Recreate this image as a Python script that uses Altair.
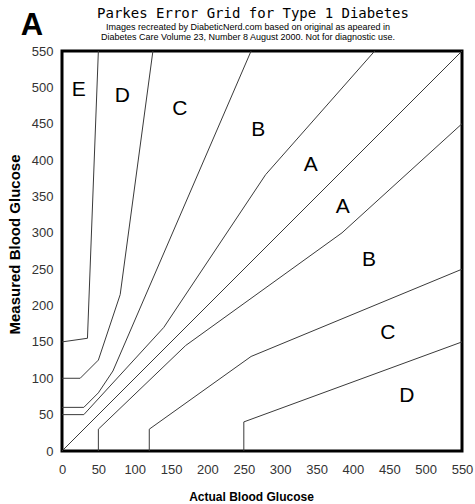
import altair as alt
import pandas as pd

# Zone boundary lines (Parkes error grid, type 1 diabetes)
a_upper_x = [0, 30, 140, 280, 430]
a_upper_y = [50, 50, 170, 380, 550]
a_lower_x = [50, 50, 170, 385, 550]
a_lower_y = [0, 30, 145, 300, 450]
b_upper_x = [0, 30, 50, 70, 260]
b_upper_y = [60, 60, 80, 110, 550]
b_lower_x = [120, 120, 260, 550]
b_lower_y = [0, 30, 130, 250]
c_upper_x = [0, 25, 50, 80, 125]
c_upper_y = [100, 100, 125, 215, 550]
c_lower_x = [250, 250, 550]
c_lower_y = [0, 40, 150]
d_upper_x = [0, 35, 50]
d_upper_y = [150, 155, 550]
diag_x = [0, 550]
diag_y = [0, 550]

# Zone labels
zone_text = ["E", "D", "C", "B", "A", "A", "B", "C", "D"]
zone_x = [23, 83, 162, 270, 342, 386, 422, 448, 474]
zone_y = [496, 488, 470, 442, 393, 336, 263, 162, 75]

tick_values = [0, 50, 100, 150, 200, 250, 300, 350, 400, 450, 500, 550]

title_text = ["Parkes Error Grid for Type 1 Diabetes"]
subtitle_text = [
    "Images recreated by DiabeticNerd.com based on original as apeared in",
    "Diabetes Care Volume 23, Number 8 August 2000. Not for diagnostic use.",
]
panel_letter = ["A"]

lines = [
    ("A upper", a_upper_x, a_upper_y),
    ("A lower", a_lower_x, a_lower_y),
    ("B upper", b_upper_x, b_upper_y),
    ("B lower", b_lower_x, b_lower_y),
    ("C upper", c_upper_x, c_upper_y),
    ("C lower", c_lower_x, c_lower_y),
    ("D upper", d_upper_x, d_upper_y),
    ("diagonal", diag_x, diag_y),
]
rows = []
for name, xs, ys in lines:
    for i, (xv, yv) in enumerate(zip(xs, ys)):
        rows.append({"line": name, "order": i, "x": xv, "y": yv})
line_df = pd.DataFrame(rows)
zone_df = pd.DataFrame({"label": zone_text, "x": zone_x, "y": zone_y})

xscale = alt.Scale(domain=[0, 550], nice=False, zero=False)
yscale = alt.Scale(domain=[0, 550], nice=False, zero=False)

x_axis = alt.Axis(
    values=tick_values, grid=False, ticks=False, domain=False,
    labelFont="Liberation Sans", labelFontSize=13, labelColor="#333",
    labelPadding=12, labelFlush=False, labelOverlap=False,
    title="Actual Blood Glucose", titleFont="Liberation Sans", titleFontSize=12,
    titleFontWeight="bold", titleColor="#000", titleX=189, titleY=45,
    titleBaseline="middle", titleAnchor="start", titleAlign="center",
)
y_axis = alt.Axis(
    values=tick_values, grid=False, ticks=False, domain=False,
    labelFont="Liberation Sans", labelFontSize=13, labelColor="#333",
    labelPadding=9, labelFlush=False, labelOverlap=False,
    title="Measured Blood Glucose", titleFont="Liberation Sans", titleFontSize=15,
    titleFontWeight="bold", titleColor="#000", titleX=-48, titleY=193,
    titleBaseline="middle", titleAlign="center", titleAngle=270,
)

base_lines = alt.Chart(line_df).mark_line(color="#3a3a3a", strokeWidth=1).encode(
    x=alt.X("x:Q", scale=xscale, axis=x_axis),
    y=alt.Y("y:Q", scale=yscale, axis=y_axis),
    detail="line:N",
    order="order:Q",
)

zones = alt.Chart(zone_df).mark_text(
    font="Liberation Sans", fontSize=21, color="#000", baseline="middle", align="center"
).encode(
    x=alt.X("x:Q", scale=xscale, axis=x_axis),
    y=alt.Y("y:Q", scale=yscale, axis=y_axis),
    text="label:N",
)

title_mark = alt.Chart(pd.DataFrame({"t": title_text})).mark_text(
    font="DejaVu Sans Mono", fontSize=14, color="#000", align="center",
    baseline="alphabetic",
).encode(x=alt.value(191), y=alt.value(-33), text="t:N")

sub_df = pd.DataFrame({"t": subtitle_text, "yy": [-21, -11]})
sub_mark = alt.Chart(sub_df).mark_text(
    font="Liberation Sans", fontSize=9, color="#000", align="center",
    baseline="alphabetic",
).encode(x=alt.value(186), y=alt.Y("yy:Q", scale=None), text="t:N")

letter_mark = alt.Chart(pd.DataFrame({"t": panel_letter})).mark_text(
    font="Liberation Sans", fontSize=31, fontWeight="bold", color="#000",
    align="center", baseline="alphabetic",
).encode(x=alt.value(-30), y=alt.value(-16), text="t:N")

chart = alt.layer(base_lines, zones, title_mark, sub_mark, letter_mark).properties(
    width=400, height=400,
    autosize=alt.AutoSizeParams(type="none"),
    padding={"left": 62, "top": 51, "right": 13, "bottom": 53},
    background="white",
).configure_view(stroke="#000", strokeWidth=3)

chart.save("out.html", embed_options={"renderer": "svg", "actions": False})
